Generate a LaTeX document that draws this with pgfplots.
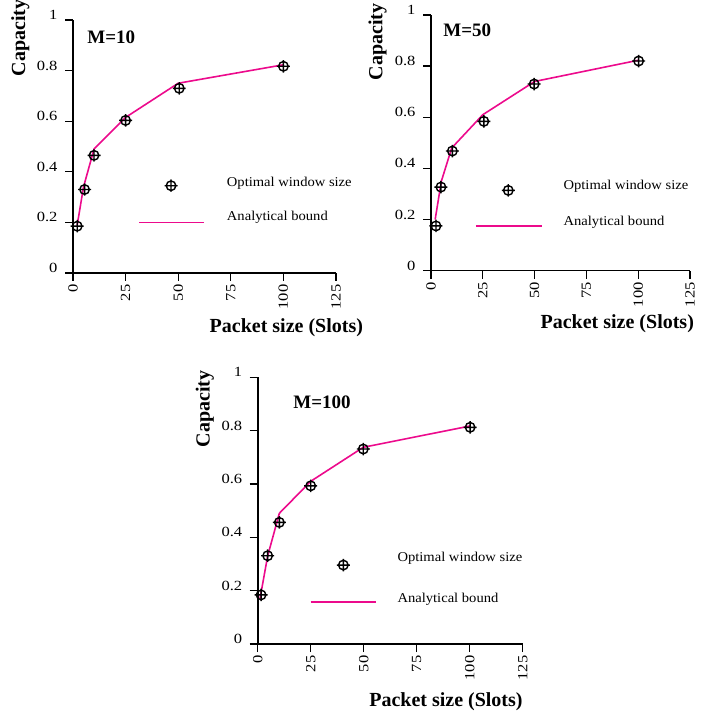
\documentclass[border=0pt]{standalone}
\usepackage{pgfplots}
\pgfplotsset{compat=1.18}
\usepackage{fontspec}
\setmainfont{Liberation Serif}
\newfontfamily\tickfam[FakeStretch=1.18]{Liberation Serif}
\newfontfamily\legfam[FakeStretch=1.08]{Liberation Serif}
\definecolor{pinkline}{RGB}{236,10,140}
\pgfdeclareplotmark{cplus}{%
  \pgfpathcircle{\pgfpointorigin}{\pgfplotmarksize}%
  \pgfpathmoveto{\pgfpoint{-1.35\pgfplotmarksize}{0pt}}%
  \pgfpathlineto{\pgfpoint{1.35\pgfplotmarksize}{0pt}}%
  \pgfpathmoveto{\pgfpoint{0pt}{-1.3\pgfplotmarksize}}%
  \pgfpathlineto{\pgfpoint{0pt}{1.3\pgfplotmarksize}}%
  \pgfusepathqstroke}
\pgfplotsset{
  cstyle/.style={
    scale only axis, anchor=south west,
    axis lines=left, axis line style={-},
    x axis line style={line width=1.3pt},
    y axis line style={line width=2pt},
    xmin=0, xmax=125, ymin=0, ymax=1,
    xtick={0,25,50,75,100,125},
    ytick={0,0.2,0.4,0.6,0.8,1},
    tick align=outside, major tick length=8pt,
    tick style={line width=1.3pt, black},
    /pgf/number format/assume math mode=true,
    xticklabel style={rotate=90, anchor=east, font=\tickfam\fontsize{14}{15}\selectfont},
    yticklabel style={yshift=5pt, xshift=-4pt, font=\tickfam\fontsize{14}{15}\selectfont},
    clip=false, enlargelimits=false,
  },
  bound/.style={color=pinkline, line width=1.6pt, no marks},
  opt/.style={only marks, mark=cplus, mark size=4.8pt, mark options={line width=1.4pt, black}},
}
\newcommand{\legfont}{\legfam\fontsize{13.5}{16}\selectfont}
\newcommand{\labfont}{\bfseries\fontsize{20}{22}\selectfont}
\begin{document}
\begin{tikzpicture}
\useasboundingbox (0pt,0pt) rectangle (711pt,715pt);
% ---------- M=10
\begin{axis}[cstyle, at={(73pt,442pt)}, width=263pt, height=253pt]
\addplot[bound] coordinates {(2,0.19) (5,0.34) (10,0.49) (25,0.615) (50,0.75) (100,0.823)};
\addplot[opt] coordinates {(2,0.185) (5.5,0.33) (10,0.465) (25,0.603) (50.5,0.73) (100,0.817)};
\addplot[opt] coordinates {(46.6,0.345)};
\addplot[bound] coordinates {(31.6,0.2) (62.4,0.2)};
\node[anchor=west, font=\legfont] at (axis cs:71.5,0.356) {Optimal window size};
\node[anchor=west, font=\legfont] at (axis cs:71.5,0.221) {Analytical bound};
\node[anchor=west, font=\bfseries\fontsize{19}{20}\selectfont] at (axis cs:5.2,0.933) {M=10};
\node[rotate=90, font=\labfont] at (axis cs:-25,0.93) {Capacity};
\node[font=\labfont] at (axis cs:101.4,-0.217) {Packet size (Slots)};
\end{axis}
% ---------- M=50
\begin{axis}[cstyle, at={(431pt,444.3pt)}, width=259pt, height=255.7pt]
\addplot[bound] coordinates {(2,0.2) (5,0.35) (10,0.48) (25,0.61) (50,0.74) (100,0.823)};
\addplot[opt] coordinates {(2.4,0.175) (4.8,0.327) (10.3,0.468) (25.5,0.584) (49.8,0.73) (100.2,0.82)};
\addplot[opt] coordinates {(37.3,0.314)};
\addplot[bound] coordinates {(21.7,0.175) (53.4,0.175)};
\node[anchor=west, font=\legfont] at (axis cs:62.3,0.331) {Optimal window size};
\node[anchor=west, font=\legfont] at (axis cs:62.3,0.19) {Analytical bound};
\node[anchor=west, font=\bfseries\fontsize{19}{20}\selectfont] at (axis cs:4.3,0.941) {M=50};
\node[rotate=90, font=\labfont] at (axis cs:-25.8,0.894) {Capacity};
\node[font=\labfont] at (axis cs:89.9,-0.208) {Packet size (Slots)};
\end{axis}
% ---------- M=100
\begin{axis}[cstyle, at={(257.7pt,71pt)}, width=265pt, height=266.7pt]
\addplot[bound] coordinates {(1.1,0.171) (4.7,0.33) (10.2,0.49) (25,0.61) (49.8,0.7375) (100.2,0.8175)};
\addplot[opt] coordinates {(1.6,0.184) (4.7,0.331) (10.2,0.456) (25,0.593) (49.8,0.731) (100.2,0.8125)};
\addplot[opt] coordinates {(40.4,0.296)};
\addplot[bound] coordinates {(25,0.157) (55.8,0.157)};
\node[anchor=west, font=\legfont] at (axis cs:64.3,0.322) {Optimal window size};
\node[anchor=west, font=\legfont] at (axis cs:64.3,0.169) {Analytical bound};
\node[anchor=west, font=\bfseries\fontsize{19}{20}\selectfont] at (axis cs:15.2,0.907) {M=100};
\node[rotate=90, font=\labfont] at (axis cs:-24.9,0.881) {Capacity};
\node[font=\labfont] at (axis cs:88.8,-0.217) {Packet size (Slots)};
\end{axis}
\end{tikzpicture}
\end{document}
